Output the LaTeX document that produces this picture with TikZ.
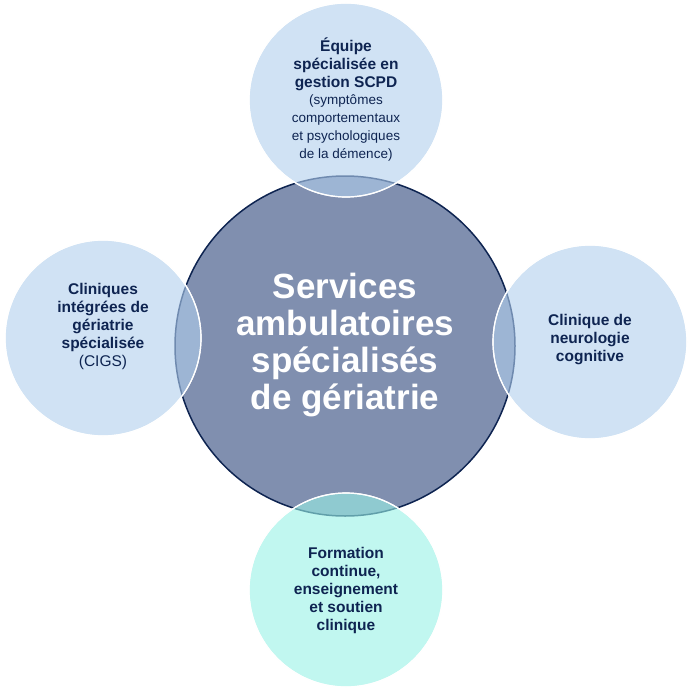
\documentclass[tikz,border=0pt]{standalone}
\usepackage{fontspec}
\setmainfont{Liberation Sans}
\definecolor{navy}{RGB}{14,36,81}
\definecolor{core}{RGB}{128,143,175}
\definecolor{sat}{RGB}{177,207,238}
\definecolor{satc}{RGB}{153,242,230}
\begin{document}
\begin{tikzpicture}[x=1pt,y=-1pt,
  sattxt/.style={text=navy,align=center,font=\fontsize{15.5}{18}\selectfont\bfseries},
  satcirc/.style={draw=white,line width=1.2pt,fill opacity=0.6}]
\useasboundingbox (0,0) rectangle (689,690);
\fill[white] (0,0) rectangle (689,690);
\draw[navy,fill=core,line width=1.5pt] (345,346) circle (170);
\path[satcirc,fill=sat] (346,100) circle (97);
\path[satcirc,fill=sat] (103,338) circle (98);
\path[satcirc,fill=sat] (590,342) circle (97);
\path[satcirc,fill=satc] (346,590) circle (97);
\draw[white,line width=1.2pt] (346,100) circle (97) (103,338) circle (98) (590,342) circle (97) (346,590) circle (97);
\node[text=white,align=center,font=\fontsize{35}{37}\selectfont\bfseries] (ctr) at (345,345) {Services\\ambulatoires\\spécialisés\\de gériatrie};
\node[sattxt] (t) at (346,100) {Équipe\\spécialisée en\\gestion SCPD\\[-1pt]\mdseries\fontsize{13.5}{16}\selectfont (symptômes\\\mdseries\fontsize{13.5}{16}\selectfont comportementaux\\\mdseries\fontsize{13.5}{16}\selectfont et psychologiques\\\mdseries\fontsize{13.5}{16}\selectfont de la démence)};
\node[sattxt] (l) at (103,326) {Cliniques\\intégrées de\\gériatrie\\spécialisée\\\mdseries (CIGS)};
\node[sattxt] (r) at (590,340) {Clinique de\\neurologie\\cognitive};
\node[sattxt] (b) at (346,590) {Formation\\continue,\\enseignement\\et soutien\\clinique};
\end{tikzpicture}
\end{document}
